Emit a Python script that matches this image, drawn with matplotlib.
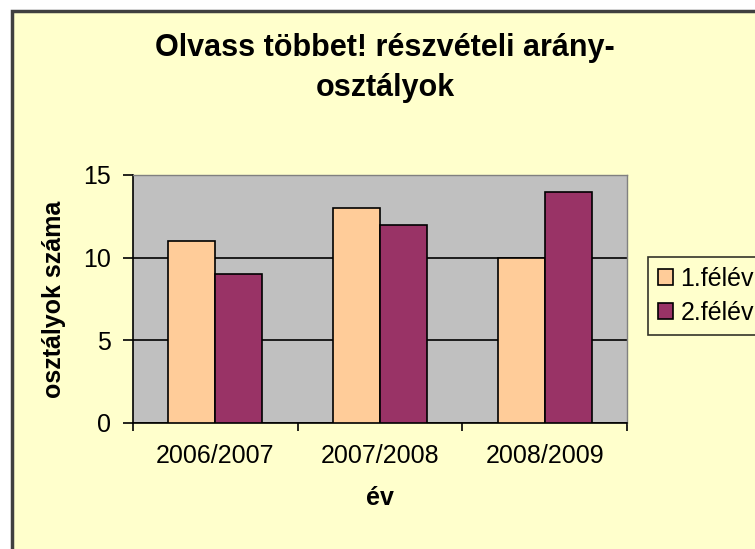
import numpy as np
import matplotlib.pyplot as plt
from matplotlib.patches import Rectangle

plt.rcParams['font.family'] = ['Liberation Sans', 'DejaVu Sans']

years = ['2006/2007', '2007/2008', '2008/2009']
felev1 = [11, 13, 10]
felev2 = [9, 12, 14]
series_names = ['1.félév', '2.félév']

W, H = 755, 549
fig = plt.figure(figsize=(W / 100, H / 100), dpi=100)
fig.patch.set_facecolor('white')

# chart area (yellow with dark border, cropped on the right/bottom)
fig.patches.append(Rectangle((12 / W, -0.1), 1.2, 1 - 11 / H + 0.1,
                             transform=fig.transFigure, facecolor='#FFFFCC',
                             edgecolor='#404040', linewidth=2.5, zorder=-5))

ax = fig.add_axes([133 / W, 1 - 423 / H, 494 / W, 248 / H])
ax.set_zorder(2)
ax.set_facecolor('#C0C0C0')

x = np.arange(len(years))
bw = 1 / 3.5
ax.bar(x - bw / 2, felev1, bw, color='#FFCC99', edgecolor='black', linewidth=1.2,
       label=series_names[0], zorder=3)
ax.bar(x + bw / 2, felev2, bw, color='#993366', edgecolor='black', linewidth=1.2,
       label=series_names[1], zorder=3)

ax.set_xlim(-0.5, 2.5)
ax.set_ylim(0, 15)
ax.set_yticks([0, 5, 10, 15])
ax.yaxis.grid(True, color='black', linewidth=1.2, zorder=1)
ax.set_axisbelow(True)

ax.set_xticks(x)
ax.set_xticklabels(years, fontsize=18)
ax.set_xticks([-0.5, 0.5, 1.5, 2.5], minor=True)
ax.tick_params(axis='x', which='major', length=0, pad=15)
ax.tick_params(axis='x', which='minor', length=6, width=1.2, direction='out')
ax.tick_params(axis='y', length=7, width=1.2, direction='out', labelsize=18, pad=9)

for s in ['top', 'right']:
    ax.spines[s].set_color('#808080')
    ax.spines[s].set_linewidth(1)
for s in ['left', 'bottom']:
    ax.spines[s].set_color('black')
    ax.spines[s].set_linewidth(1.2)

ax.set_ylabel('osztályok száma', fontsize=18, fontweight='bold', labelpad=12)
ax.set_xlabel('év', fontsize=18, fontweight='bold', labelpad=13)

fig.text(385 / W, 1 - 68 / H, 'Olvass többet! részvételi arány-\nosztályok',
         ha='center', va='center', fontsize=22, fontweight='bold', linespacing=1.4)

leg = fig.legend(loc='upper left', bbox_to_anchor=(648 / W, 1 - 257 / H),
                 fontsize=18, frameon=True, fancybox=False, edgecolor='black',
                 facecolor='#FFFFCC', handlelength=0.6, handleheight=0.6,
                 handletextpad=0.3, borderpad=0.4, labelspacing=0.4,
                 borderaxespad=0)
leg.get_frame().set_linewidth(1.2)

fig.savefig('out.png', dpi=100, facecolor=fig.get_facecolor())
